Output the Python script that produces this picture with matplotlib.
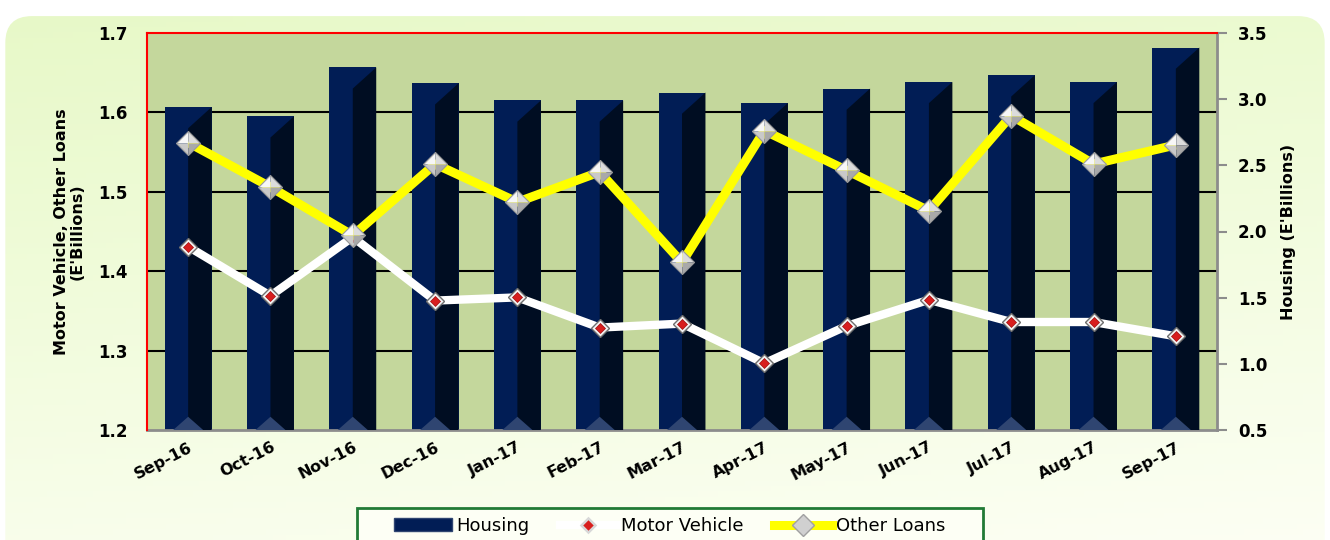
import matplotlib

matplotlib.use("Agg")
import matplotlib.pyplot as plt
import numpy as np
from matplotlib.patches import FancyBboxPatch, Polygon, Patch, Rectangle
from matplotlib.lines import Line2D
from matplotlib.transforms import blended_transform_factory

months = ["Sep-16", "Oct-16", "Nov-16", "Dec-16", "Jan-17", "Feb-17", "Mar-17",
          "Apr-17", "May-17", "Jun-17", "Jul-17", "Aug-17", "Sep-17"]
housing = [2.94, 2.87, 3.24, 3.12, 2.99, 2.99, 3.05, 2.97, 3.08, 3.13, 3.18, 3.13, 3.39]
motor_vehicle = [1.431, 1.369, 1.443, 1.363, 1.367, 1.329, 1.334, 1.284, 1.331,
                 1.364, 1.336, 1.336, 1.318]
other_loans = [1.562, 1.506, 1.445, 1.535, 1.487, 1.525, 1.411, 1.577, 1.527,
               1.476, 1.596, 1.535, 1.559]

left_ticks = [1.2, 1.3, 1.4, 1.5, 1.6, 1.7]
right_ticks = [0.5, 1.0, 1.5, 2.0, 2.5, 3.0, 3.5]

NAVY = "#011d55"
SIDE = "#000d22"
BASE = "#2f4571"
PLOT_BG = "#c4d79c"

W, H = 1330, 540
fig = plt.figure(figsize=(W / 100, H / 100), dpi=100, facecolor="white")

# rounded gradient backdrop: green at the top, cream at the bottom
bg = fig.add_axes([0, 0, 1, 1], zorder=-10)
bg.set_axis_off()
gx = np.linspace(0, 1, 200)
gy = np.linspace(0, 1, 100)
GX, GY = np.meshgrid(gx, gy)
t = np.clip(0.8 * (1 - GY) + 0.2 * GX, 0, 1)
c0 = np.array([0.905, 0.975, 0.78])
c1 = np.array([0.99, 1.0, 0.955])
img = c0[None, None, :] * (1 - t[..., None]) + c1[None, None, :] * t[..., None]
im = bg.imshow(img, extent=[0, 1, 0, 1], origin="lower", aspect="auto")
bg.set_xlim(0, 1)
bg.set_ylim(0, 1)
box = FancyBboxPatch((0.004, -0.05), 0.992, 1.035 - 8 / H,
                     boxstyle="round,pad=0,rounding_size=0.02",
                     mutation_aspect=W / H, transform=bg.transAxes,
                     facecolor="none", edgecolor="none")
bg.add_patch(box)
im.set_clip_path(box)

axb = fig.add_axes([147 / W, 1 - 430 / H, 1070 / W, 397 / H])
axl = axb.twinx()

x = np.arange(len(months))
w = 0.57

axb.set_facecolor(PLOT_BG)
axb.set_xlim(-0.5, len(months) - 0.5)
axb.set_ylim(0.5, 3.5)
axl.set_ylim(1.2, 1.7)

# gridlines on left-axis values, kept behind bars
gtrans = blended_transform_factory(axb.transAxes, axl.transData)
for v in left_ticks[1:-1]:
    axb.plot([0, 1], [v, v], color="black", lw=1.5, transform=gtrans, zorder=1)

# 3D-ish bars
axb.bar(x, housing, width=w, bottom=0, color=NAVY, zorder=2)
bev = 0.16
for xi, h in zip(x, housing):
    r = xi + w / 2
    axb.add_patch(Polygon([(xi, 0.5), (r, 0.5), (r, h), (xi, h - bev)],
                          closed=True, facecolor=SIDE, edgecolor="none", zorder=3))
    axb.add_patch(Polygon([(xi - w * 0.32, 0.5), (xi, 0.5 + 0.1), (xi + w * 0.32, 0.5)],
                          closed=True, facecolor=BASE, edgecolor="none", zorder=3))

# motor vehicle: white line, red diamond with pale rim
axl.plot(x, motor_vehicle, color="white", lw=6, solid_capstyle="butt", zorder=4)
axl.plot(x, motor_vehicle, ls="none", marker="D", ms=9, mfc="#f4f4f4",
         mec="#6e6e6e", mew=1.0, zorder=5)
axl.plot(x, motor_vehicle, ls="none", marker="D", ms=5, mfc="#d81e1e",
         mec="#a01010", mew=0.5, zorder=6)

# other loans: yellow line, pyramid-shaded diamonds
axl.plot(x, other_loans, color="#ffff00", lw=6.5, solid_capstyle="butt", zorder=7)
dm = 12.5
faces = [
    ([(0, 0), (0, 1), (-1, 0)], "#f7f7f7"),
    ([(0, 0), (0, 1), (1, 0)], "#dcdcdc"),
    ([(0, 0), (-1, 0), (0, -1)], "#c9c9c9"),
    ([(0, 0), (1, 0), (0, -1)], "#a9a9a9"),
]
for verts, col in faces:
    axl.plot(x, other_loans, ls="none", marker=verts, ms=dm * 1.414,
             mfc=col, mec="none", zorder=8)
axl.plot(x, other_loans, ls="none", marker="D", ms=dm, mfc="none",
         mec="#9a9a9a", mew=0.8, zorder=9)

# axes styling
for s in axb.spines.values():
    s.set_visible(False)
for s in axl.spines.values():
    s.set_visible(False)
for side in ("left", "top"):
    axl.spines[side].set_visible(True)
    axl.spines[side].set_color("#ff0000")
    axl.spines[side].set_linewidth(1.5)
for side in ("right", "bottom"):
    axb.spines[side].set_visible(True)
    axb.spines[side].set_color("#8c8c8c")
    axb.spines[side].set_linewidth(2)

axb.yaxis.tick_right()
axb.yaxis.set_label_position("right")
axl.yaxis.tick_left()
axl.yaxis.set_label_position("left")

axl.set_yticks(left_ticks, [f"{v:.1f}" for v in left_ticks])
axb.set_yticks(right_ticks, [f"{v:.1f}" for v in right_ticks])
axl.tick_params(axis="y", length=0, pad=14, labelsize=12)
axb.tick_params(axis="y", length=7, width=1.5, color="#8c8c8c", pad=8, labelsize=12)
for lab in axl.get_yticklabels() + axb.get_yticklabels():
    lab.set_fontweight("bold")

axb.set_xticks(x, months)
axb.tick_params(axis="x", length=0, pad=7, labelsize=11.5)
for lab in axb.get_xticklabels():
    lab.set_fontweight("bold")
    lab.set_rotation(27)
    lab.set_ha("right")
    lab.set_rotation_mode("anchor")

axl.set_ylabel("Motor Vehicle, Other Loans\n(E'Billions)", fontsize=11.5,
               fontweight="bold", labelpad=10, linespacing=1.0)
axb.set_ylabel("Housing (E'Billions)", fontsize=11.5, fontweight="bold", labelpad=10)

# legend: own frame running off the bottom edge, entries centred inside it
fig.patches.append(Rectangle((357 / W, -0.05), (983 - 357) / W, 0.05 + 1 - 508 / H,
                             transform=fig.transFigure, facecolor="#fdfff5",
                             edgecolor="#217a35", lw=2, zorder=5))
handles = [
    Patch(facecolor=NAVY, edgecolor=BASE),
    Line2D([], [], color="white", lw=6, marker="D", ms=7, mfc="#d81e1e",
           mec="#d8d8d8", mew=1.8),
    Line2D([], [], color="#ffff00", lw=6.5, marker="D", ms=11, mfc="#d0d0d0",
           mec="#a0a0a0"),
]
leg = fig.legend(handles, ["Housing", "Motor Vehicle", "Other Loans"],
                 loc="center", bbox_to_anchor=(0.5035, 1 - 526 / H),
                 ncol=3, fontsize=13, frameon=False,
                 handlelength=3.2, handletextpad=0.2, columnspacing=1.7,
                 borderpad=0.0)
leg.set_zorder(6)

fig.savefig("out.png", dpi=100, facecolor=fig.get_facecolor())
